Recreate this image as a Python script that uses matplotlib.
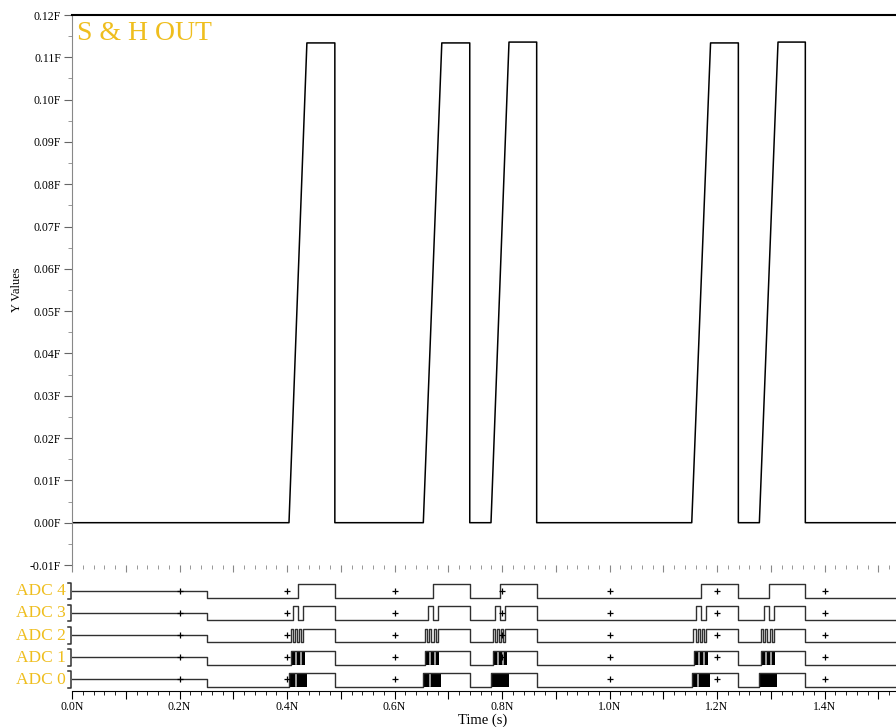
import matplotlib.pyplot as plt
from matplotlib.ticker import MultipleLocator, FixedLocator, FixedFormatter
import numpy as np

plt.rcParams['font.family'] = ['Liberation Serif', 'DejaVu Serif']
plt.rcParams['axes.unicode_minus'] = False

# S & H output: ramp start, ramp top, hold end (in N), hold level (F)
sh_start = [0.4037, 0.6536, 0.7795, 1.153, 1.2788]
sh_top = [0.437, 0.688, 0.813, 1.188, 1.3135]
sh_end = [0.489, 0.740, 0.8645, 1.2397, 1.3643]
sh_level = [0.1134, 0.1134, 0.1136, 0.1134, 0.1136]

# digital bits: pulses given as offsets from each conversion start,
# None as end means "until hold end"
adc_names = ['ADC 0', 'ADC 1', 'ADC 2', 'ADC 3', 'ADC 4']
adc_pulses = {
    'ADC 4': [(0.0173, None)],
    'ADC 3': [(0.008, 0.0173), (0.0266, None)],
    'ADC 2': [(0.0032, 0.0071), (0.011, 0.0149), (0.019, 0.0229), (0.0268, None)],
    'ADC 1': [(0.0033, None)],
    'ADC 0': [(0.0, None)],
}
# dense toggling shown as black blocks, with light gaps
adc_blocks = {'ADC 1': (0.0033, 0.0298), 'ADC 0': (0.0, 0.0335)}
adc_gaps = {'ADC 1': [0.013, 0.0223], 'ADC 0': [0.0124]}
adc0_gap_shown = [True, True, False, True, False]
undefined_until = 0.251
grid_marks = [0.2, 0.4, 0.6, 0.8, 1.0, 1.2, 1.4]

x_max = 1.533
gold = '#EFBE1E'

fig = plt.figure(figsize=(8.96, 7.27), dpi=100)
ax = fig.add_axes([72/896, 1-565/727, 1-72/896, 550/727])
ax2 = fig.add_axes([72/896, 1-691/727, 1-72/896, 116/727])

# ---- upper analog trace
xs, ys = [0.0], [0.0]
for s, t, e, v in zip(sh_start, sh_top, sh_end, sh_level):
    xs += [s, t, e, e]
    ys += [0.0, v, v, 0.0]
xs.append(x_max + 0.1)
ys.append(0.0)
ax.plot(xs, ys, color='black', lw=1.1)

ax.set_xlim(0, x_max)
ax.set_ylim(-0.01, 0.12)
ax.yaxis.set_major_locator(FixedLocator(np.round(np.arange(-0.01, 0.1201, 0.01), 3)))
ax.yaxis.set_minor_locator(MultipleLocator(0.005))
ax.yaxis.set_major_formatter(plt.FuncFormatter(lambda v, p: f'{v:.2f}F'))
ax.xaxis.set_major_locator(MultipleLocator(0.1))
ax.xaxis.set_minor_locator(MultipleLocator(0.02))
ax.tick_params(axis='x', which='both', labelbottom=False, color='#888888')
ax.tick_params(axis='x', which='major', length=5)
ax.tick_params(axis='x', which='minor', length=3)
ax.tick_params(axis='y', which='major', length=6, color='#666666', labelsize=8.5, pad=2)
ax.tick_params(axis='y', which='minor', length=3, color='#888888')
ax.spines['right'].set_visible(False)
ax.spines['bottom'].set_visible(False)
ax.spines['left'].set_color('#888888')
ax.spines['top'].set_linewidth(1.5)
ax.text(7/824, 0.1157, 'S & H OUT', color=gold, fontsize=20, va='center', ha='left')

# ---- lower digital traces
high_off, mid_off = 0.63, 0.35
for i, name in enumerate(adc_names):
    low, high, mid = i, i + high_off, i + mid_off
    ts = [0.0, undefined_until]
    lv = [mid, low]
    for k, (s, e) in enumerate(zip(sh_start, sh_end)):
        for a, b in adc_pulses[name]:
            ts += [s + a, e if b is None else s + b]
            lv += [high, low]
        if name in adc_blocks:
            a, b = adc_blocks[name]
            ax2.fill_between([s + a, s + b], low, high, color='black', lw=0)
            if name != 'ADC 0' or adc0_gap_shown[k]:
                for g in adc_gaps[name]:
                    ax2.plot([s + g, s + g], [low + 0.04, high - 0.04], color='#bbbbbb', lw=1.2)
    ts.append(x_max + 0.1)
    lv.append(low)
    ax2.step(ts, lv, where='post', color='#303030', lw=1.0)
    ax2.plot(grid_marks, [mid] * len(grid_marks), '+', color='black', ms=5, mew=0.9)
    # bracket and label
    tr = ax2.get_yaxis_transform()
    ax2.plot([-0.0049, -0.0012, -0.0012, -0.0049], [low - 0.05, low - 0.05, high + 0.08, high + 0.08],
             color='#303030', lw=1.1, transform=tr, clip_on=False)
    ax2.text(-0.0075, (low + high) / 2, name, color=gold, fontsize=12.5, ha='right', va='center',
             transform=tr)

ax2.set_xlim(0, x_max)
ax2.set_ylim(-0.195, 5.054)
ax2.set_yticks([])
for side in ['top', 'right', 'left']:
    ax2.spines[side].set_visible(False)
major = np.round(np.arange(0, 1.51, 0.1), 2)
ax2.xaxis.set_major_locator(FixedLocator(major))
ax2.xaxis.set_major_formatter(FixedFormatter([f'{v:.1f}N' if round(v * 10) % 2 == 0 else '' for v in major]))
ax2.xaxis.set_minor_locator(MultipleLocator(0.02))
ax2.tick_params(axis='x', which='major', length=6, labelsize=8.5, pad=1)
ax2.tick_params(axis='x', which='minor', length=3)

fig.text(17/896, 1-290/727, 'Y Values', rotation=90, ha='center', va='center', fontsize=9)
fig.text(483/896, 1-720/727, 'Time (s)', ha='center', va='center', fontsize=10.5)

fig.savefig('out.png', dpi=100)
